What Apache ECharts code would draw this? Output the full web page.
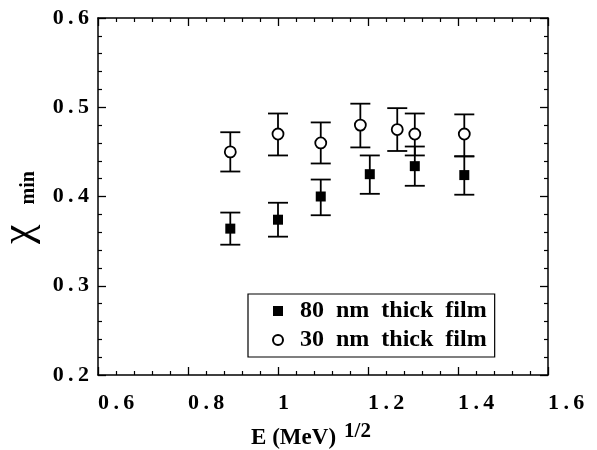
<!DOCTYPE html>
<html>
<head>
<meta charset="utf-8">
<script src="https://cdn.jsdelivr.net/npm/echarts@6/dist/echarts.min.js"></script>
<style>
html, body { margin: 0; padding: 0; background: #fff; }
#main { width: 597px; height: 450px; }
</style>
</head>
<body>
<div id="main"></div>
<script>
// 80 nm thick film (filled squares)
const thickX = [0.894, 1.0, 1.095, 1.204, 1.304, 1.414];
const thickY = [0.364, 0.374, 0.400, 0.425, 0.434, 0.424];
const thickLo = [0.346, 0.355, 0.379, 0.403, 0.412, 0.402];
const thickHi = [0.382, 0.393, 0.419, 0.446, 0.456, 0.445];

// 30 nm thick film (open circles)
const thinX = [0.894, 1.0, 1.095, 1.183, 1.265, 1.304, 1.414];
const thinY = [0.450, 0.470, 0.460, 0.480, 0.475, 0.470, 0.470];
const thinLo = [0.428, 0.446, 0.437, 0.455, 0.451, 0.446, 0.445];
const thinHi = [0.472, 0.493, 0.483, 0.504, 0.499, 0.493, 0.492];

const names = ['80  nm  thick  film', '30  nm  thick  film'];

const serif = 'Liberation Serif';
const fmt = v => String(+(+v).toFixed(1)).replace('.', '\u2009.\u2009');

const errBars = (xs, lo, hi) => ({
    type: 'custom',
    silent: true,
    z: 1,
    data: xs.map((x, i) => [x, lo[i], hi[i]]),
    renderItem: (params, api) => {
        const a = api.coord([api.value(0), api.value(1)]);
        const b = api.coord([api.value(0), api.value(2)]);
        const w = 10;
        const st = { stroke: '#000', lineWidth: 1.8 };
        return {
            type: 'group',
            children: [
                { type: 'line', shape: { x1: a[0], y1: a[1], x2: b[0], y2: b[1] }, style: st },
                { type: 'line', shape: { x1: a[0] - w, y1: a[1], x2: a[0] + w, y2: a[1] }, style: st },
                { type: 'line', shape: { x1: b[0] - w, y1: b[1], x2: b[0] + w, y2: b[1] }, style: st }
            ]
        };
    }
});

const xBase = {
    type: 'value', min: 0.6, max: 1.6, interval: 0.2,
    axisLine: { show: true, onZero: false, lineStyle: { color: '#000', width: 1.5 } },
    axisTick: { show: true, inside: true, length: 8, lineStyle: { color: '#000', width: 1.3 } },
    minorTick: { show: true, splitNumber: 5, length: 4, lineStyle: { color: '#000', width: 1.2 } },
    splitLine: { show: false }
};
const yBase = {
    type: 'value', min: 0.2, max: 0.6, interval: 0.1,
    axisLine: { show: true, onZero: false, lineStyle: { color: '#000', width: 1.5 } },
    axisTick: { show: true, inside: true, length: 8, lineStyle: { color: '#000', width: 1.3 } },
    minorTick: { show: true, splitNumber: 5, length: 4, lineStyle: { color: '#000', width: 1.2 } },
    splitLine: { show: false }
};

const chart = echarts.init(document.getElementById('main'), null, { renderer: 'canvas' });
chart.setOption({
    backgroundColor: '#fff',
    animation: false,
    grid: { left: 98, right: 49, top: 18, bottom: 75, containLabel: false, outerBoundsMode: 'none' },
    xAxis: [
        Object.assign({}, xBase, {
            position: 'bottom',
            axisLabel: {
                margin: 17, align: 'left', showMaxLabel: true, showMinLabel: true,
                fontFamily: serif, fontWeight: 'bold', fontSize: 22, color: '#000', formatter: fmt
            },
            name: '{a|E (MeV)}{b|1/2}',
            nameLocation: 'middle',
            nameGap: 46,
            nameTextStyle: {
                padding: [0, 24, 0, 0],
                rich: {
                    a: { fontFamily: serif, fontWeight: 'bold', fontSize: 23, color: '#000' },
                    b: { fontFamily: serif, fontWeight: 'bold', fontSize: 21, color: '#000', padding: [0, 0, 14, 8] }
                }
            }
        }),
        Object.assign({}, xBase, { position: 'top', axisLabel: { show: false } })
    ],
    yAxis: [
        Object.assign({}, yBase, {
            position: 'left',
            axisLabel: {
                margin: 9, padding: [8, 0, 0, 0],
                fontFamily: serif, fontWeight: 'bold', fontSize: 22, color: '#000', formatter: fmt
            },
            name: '{c|χ}{s|min}',
            nameLocation: 'middle',
            nameRotate: 90,
            nameGap: 52,
            nameTextStyle: {
                padding: [0, 22, 0, 0],
                rich: {
                    c: { fontFamily: serif, fontSize: 44, color: '#000' },
                    s: { fontFamily: serif, fontWeight: 'bold', fontSize: 20, color: '#000', padding: [18, 0, 0, 20] }
                }
            }
        }),
        Object.assign({}, yBase, { position: 'right', axisLabel: { show: false } })
    ],
    legend: {
        data: names,
        orient: 'vertical',
        left: 248, top: 294,
        padding: [5, 8, 5, 24],
        itemGap: 5,
        itemWidth: 10, itemHeight: 10,
        borderColor: '#000', borderWidth: 1.2,
        selectedMode: false,
        textStyle: { fontFamily: serif, fontWeight: 'bold', fontSize: 24, color: '#000', padding: [0, 0, 0, 12] }
    },
    series: [
        errBars(thickX, thickLo, thickHi),
        errBars(thinX, thinLo, thinHi),
        {
            name: names[0], type: 'scatter', z: 3,
            symbol: 'rect', symbolSize: 10,
            itemStyle: { color: '#000', opacity: 1 },
            data: thickX.map((x, i) => [x, thickY[i]])
        },
        {
            name: names[1], type: 'scatter', z: 3,
            symbol: 'circle', symbolSize: 11,
            itemStyle: { color: '#fff', borderColor: '#000', borderWidth: 1.8, opacity: 1 },
            data: thinX.map((x, i) => [x, thinY[i]])
        }
    ]
});
</script>
</body>
</html>
